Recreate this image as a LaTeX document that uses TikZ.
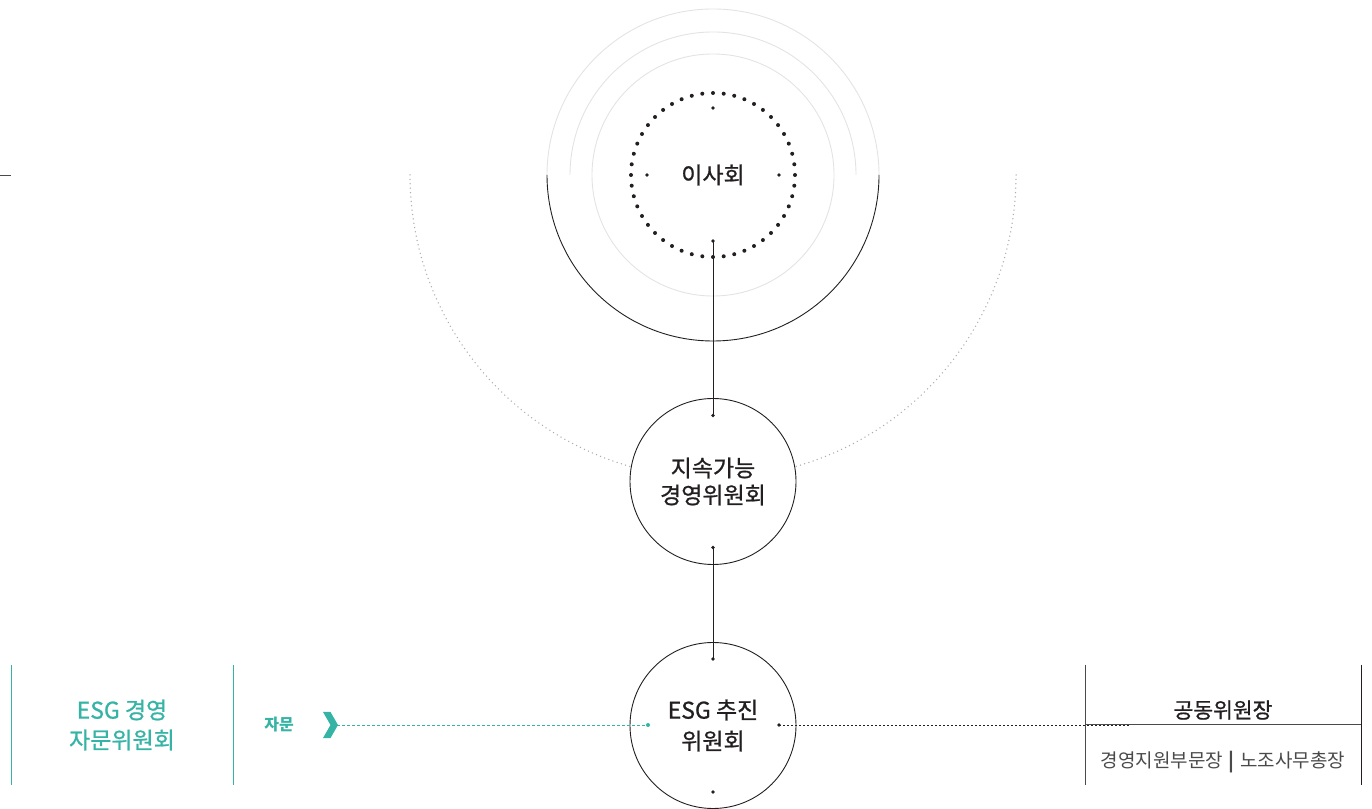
\documentclass[tikz,border=0pt]{standalone}
\usepackage{fontspec}
\setmainfont{Noto Sans CJK KR}
\newfontfamily\krmed{Noto Sans CJK KR}[FakeBold=0.9]
\definecolor{tealc}{HTML}{35B3A5}
\definecolor{ink}{HTML}{231F20}
\definecolor{lgray}{HTML}{E3E3E3}
\definecolor{dgray}{HTML}{ADADAD}
\definecolor{boxline}{HTML}{4A4A4A}
\begin{document}
\begin{tikzpicture}[x=1pt,y=1pt,
  bigc/.style={circle,draw=ink,line width=0.9pt,minimum size=166pt,inner sep=0pt,align=center,text=ink},
  dotarc/.style={dgray,line width=1.5pt,line cap=round,dash pattern=on 0pt off 4.4pt},
  link/.style={ink,line width=1pt},
  lbl/.style={inner sep=0pt,align=center}]
\useasboundingbox (0,0) rectangle (1372,808);
% top: board
\coordinate (c1) at (713,633);
\draw[lgray,line width=0.9pt] (c1) circle (121);
\draw[lgray,line width=0.9pt] (570,633) arc (180:0:143);
\draw[lgray,line width=0.9pt] (547,633) arc (180:0:166);
\draw[ink,line width=0.9pt] (547,633) arc (180:360:166);
\foreach \a in {0,7.5,...,352.5} \fill[ink] (c1) ++(\a:82) circle (2.0);
\node[lbl,text=ink,font=\krmed\fontsize{23}{27}\selectfont] (board) at (c1) {이사회};
\coordinate (bt) at (713,700);
\coordinate (bl) at (647,633);
\coordinate (br) at (779,633);
\coordinate (bb) at (713,567);
\foreach \p in {bt,bl,br,bb} \fill[ink] (\p) circle (1.8);
% big dotted arcs
\draw[dotarc] (410,633) arc (180:254.3:303);
\draw[dotarc] (1016,633) arc (0:-74.3:303);
% middle committee
\node[bigc,font=\krmed\fontsize{23}{27}\selectfont] (sm) at (713,326.5) {지속가능\\경영위원회};
\coordinate (smt) at (713,392.5);
\coordinate (smb) at (713,260.5);
\fill[ink] (smt) circle (1.8);
\fill[ink] (smb) circle (1.8);
% bottom committee
\node[bigc,font=\krmed\fontsize{23}{31}\selectfont] (esg) at (713,82.5) {ESG 추진\\위원회};
\coordinate (et) at (713,149);
\coordinate (el) at (648,83);
\coordinate (er) at (779,83);
\coordinate (eb) at (713,16);
\fill[ink] (et) circle (1.8);
\fill[ink] (er) circle (1.8);
\fill[ink] (eb) circle (1.8);
\fill[tealc] (el) circle (2.0);
% connectors
\draw[link] (bb) -- (smt);
\draw[link] (smb) -- (et);
% left advisory
\draw[tealc,line width=0.9pt] (11,143) -- (11,23);
\draw[tealc,line width=0.9pt] (233,143) -- (233,23);
\node[lbl,text=tealc,font=\krmed\fontsize{23}{30}\selectfont] (adv) at (122,83) {ESG 경영\\자문위원회};
\node[lbl,text=tealc,font=\fontsize{16}{18}\selectfont\bfseries] (advlbl) at (279,83) {자문};
\coordinate (chev) at (337,83);
\fill[tealc] (323,96) -- (330.5,96) -- (338,83) -- (330.5,70) -- (323,70) -- (330.5,83) -- cycle;
\draw[tealc,line width=0.8pt,dash pattern=on 3pt off 2pt] (chev) -- (el);
% right box
\coordinate (rend) at (1130,83);
\draw[ink,line width=0.9pt,dash pattern=on 2pt off 2pt] (er) -- (rend);
\draw[boxline,line width=0.9pt] (1085,143) -- (1085,23);
\draw[ink,line width=0.9pt] (1361,143) -- (1361,23);
\draw[boxline,line width=0.9pt] (1085,84) -- (1361,84);
\node[lbl,text=ink,font=\krmed\fontsize{21.5}{24}\selectfont] (chair) at (1223,98) {공동위원장};
\node[lbl,text=boxline,font=\fontsize{19}{22}\selectfont] (members) at (1223,46) {경영지원부문장\hspace{0.3em}\textbf{|}\hspace{0.3em}노조사무총장};
% left tick
\draw[boxline,line width=0.8pt] (0,633) -- (11,633);
\end{tikzpicture}
\end{document}
